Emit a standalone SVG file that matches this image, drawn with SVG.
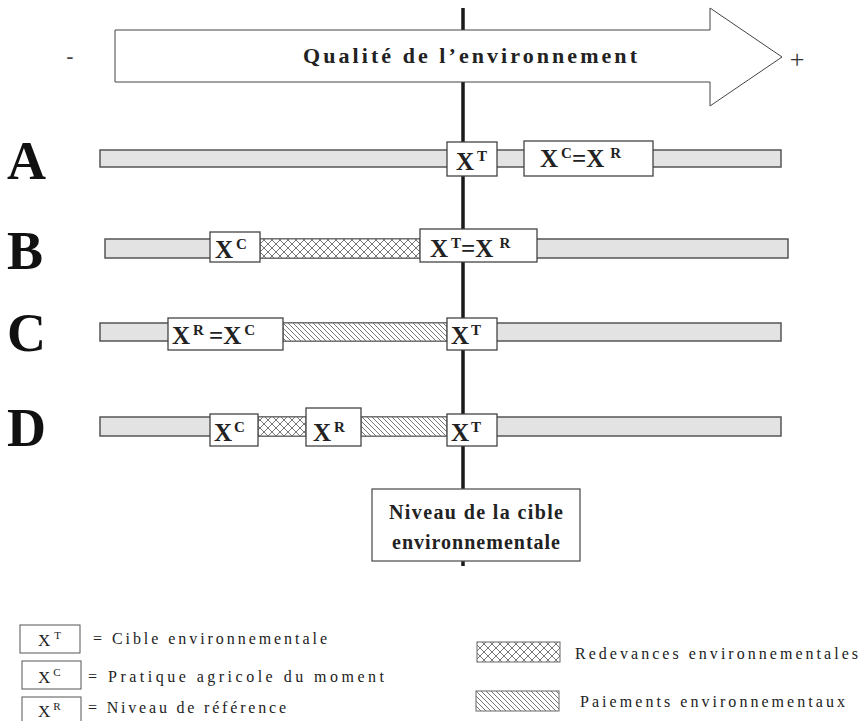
<svg xmlns="http://www.w3.org/2000/svg" width="860" height="721" viewBox="0 0 860 721">
<style>
.bar{fill:#e3e3e3;stroke:#555;stroke-width:1.5}
.box{fill:#fff;stroke:#444;stroke-width:1.3}
.bx{font-family:"Liberation Serif",serif;font-weight:bold;fill:#222;font-size:25px}
.sup{font-size:15px}
.row{font-family:"Liberation Serif",serif;font-weight:bold;fill:#111;font-size:54px}
.leg{font-family:"Liberation Serif",serif;fill:#222;font-size:16px}
.lx{font-family:"Liberation Serif",serif;fill:#222;font-size:17px}
.lsup{font-size:11px}
.title{font-family:"Liberation Serif",serif;font-weight:bold;fill:#222;font-size:22px}
</style>
<defs>
<pattern id="cross" width="8" height="8" patternUnits="userSpaceOnUse">
<rect width="8" height="8" fill="#fff"/>
<path d="M0 0L8 8M8 0L0 8" stroke="#777" stroke-width="1"/>
</pattern>
<pattern id="diag" width="5" height="5" patternUnits="userSpaceOnUse">
<rect width="5" height="5" fill="#fff"/>
<path d="M-1 -1L6 6M-1 4L1 6M4 -1L6 1" stroke="#777" stroke-width="1"/>
</pattern>
</defs>

<g id="connectors">
<line x1="463" y1="8" x2="463" y2="566" stroke="#1a1a1a" stroke-width="3.5"/>
</g>

<g id="arrow">
<polygon points="115,30 710,30 710,8 782,57 710,106 710,82 115,82" fill="#fff" stroke="#444" stroke-width="1"/>
<text class="title" x="470" y="63" text-anchor="middle" textLength="334" lengthAdjust="spacing">Qualité de l’environnement</text>
<text x="70" y="64" font-family="Liberation Sans,sans-serif" font-size="22" fill="#444" text-anchor="middle">-</text>
<text x="797" y="68" font-family="Liberation Serif,serif" font-size="26" fill="#333" text-anchor="middle">+</text>
</g>

<g id="rowA">
<text class="row" x="7" y="179">A</text>
<rect class="bar" x="100" y="150" width="681" height="17"/>
<rect class="box" x="447" y="142" width="50" height="34"/>
<text class="bx" x="456" y="170">X<tspan class="sup" dx="3" dy="-9">T</tspan></text>
<rect class="box" x="524" y="141" width="129" height="35"/>
<text class="bx" x="540" y="167">X<tspan class="sup" dx="3" dy="-9">C</tspan><tspan dy="9">=X</tspan><tspan class="sup" dx="6" dy="-9">R</tspan></text>
</g>

<g id="rowB">
<text class="row" x="7" y="269">B</text>
<rect class="bar" x="105" y="239" width="683" height="19"/>
<rect x="260" y="239" width="160" height="19" fill="url(#cross)" stroke="#666" stroke-width="1"/>
<rect class="box" x="210" y="232" width="50" height="30"/>
<text class="bx" x="215" y="258">X<tspan class="sup" dx="3" dy="-9">C</tspan></text>
<rect class="box" x="420" y="229" width="117" height="33"/>
<text class="bx" x="430" y="257">X<tspan class="sup" dx="3" dy="-9">T</tspan><tspan dy="9">=X</tspan><tspan class="sup" dx="6" dy="-9">R</tspan></text>
</g>

<g id="rowC">
<text class="row" x="7" y="351">C</text>
<rect class="bar" x="100" y="323" width="681" height="18"/>
<rect x="283" y="323" width="164" height="18" fill="url(#diag)" stroke="#666" stroke-width="1"/>
<rect class="box" x="168" y="318" width="115" height="32"/>
<text class="bx" x="172" y="344">X<tspan class="sup" dx="3" dy="-9">R</tspan><tspan dx="5" dy="9">=X</tspan><tspan class="sup" dx="3" dy="-9">C</tspan></text>
<rect class="box" x="447" y="318" width="50" height="32"/>
<text class="bx" x="451" y="344">X<tspan class="sup" dx="2" dy="-9">T</tspan></text>
</g>

<g id="rowD">
<text class="row" x="7" y="446">D</text>
<rect class="bar" x="100" y="417" width="681" height="19"/>
<rect x="258" y="417" width="48" height="19" fill="url(#cross)" stroke="#666" stroke-width="1"/>
<rect x="361" y="417" width="86" height="19" fill="url(#diag)" stroke="#666" stroke-width="1"/>
<rect class="box" x="210" y="414" width="48" height="32"/>
<text class="bx" x="214" y="441">X<tspan class="sup" dx="2" dy="-9">C</tspan></text>
<rect class="box" x="306" y="408" width="55" height="38"/>
<text class="bx" x="313" y="441">X<tspan class="sup" dx="3" dy="-9">R</tspan></text>
<rect class="box" x="447" y="414" width="50" height="32"/>
<text class="bx" x="451" y="441">X<tspan class="sup" dx="2" dy="-9">T</tspan></text>
</g>

<g id="target">
<rect x="372" y="489" width="208" height="72" fill="#fff" stroke="#555" stroke-width="1.3"/>
<text class="title" x="476" y="519" text-anchor="middle" textLength="174" lengthAdjust="spacing" style="font-size:20px">Niveau de la cible</text>
<text class="title" x="476" y="549" text-anchor="middle" textLength="168" lengthAdjust="spacing" style="font-size:20px">environnementale</text>
</g>

<g id="legendT">
<rect x="20" y="625" width="60" height="28" fill="#fff" stroke="#555" stroke-width="1"/>
<text class="lx" x="38" y="646">X<tspan class="lsup" dx="4" dy="-7">T</tspan></text>
<text class="leg" x="93" y="644" textLength="234" lengthAdjust="spacing">= Cible environnementale</text>
</g>
<g id="legendC">
<rect x="22" y="661" width="59" height="28" fill="#fff" stroke="#555" stroke-width="1"/>
<text class="lx" x="38" y="683">X<tspan class="lsup" dx="3" dy="-7">C</tspan></text>
<text class="leg" x="88" y="682" textLength="296" lengthAdjust="spacing">= Pratique agricole du moment</text>
</g>
<g id="legendR">
<rect x="22" y="697" width="59" height="30" fill="#fff" stroke="#555" stroke-width="1"/>
<text class="lx" x="38" y="717">X<tspan class="lsup" dx="3" dy="-7">R</tspan></text>
<text class="leg" x="88" y="713" textLength="198" lengthAdjust="spacing">= Niveau de référence</text>
</g>
<g id="legendCross">
<rect x="477" y="642" width="83" height="20" fill="url(#cross)" stroke="#666" stroke-width="1"/>
<text class="leg" x="575" y="659" textLength="283" lengthAdjust="spacing">Redevances environnementales</text>
</g>
<g id="legendDiag">
<rect x="476" y="691" width="83" height="20" fill="url(#diag)" stroke="#666" stroke-width="1"/>
<text class="leg" x="580" y="707" textLength="265" lengthAdjust="spacing">Paiements environnementaux</text>
</g>
</svg>
